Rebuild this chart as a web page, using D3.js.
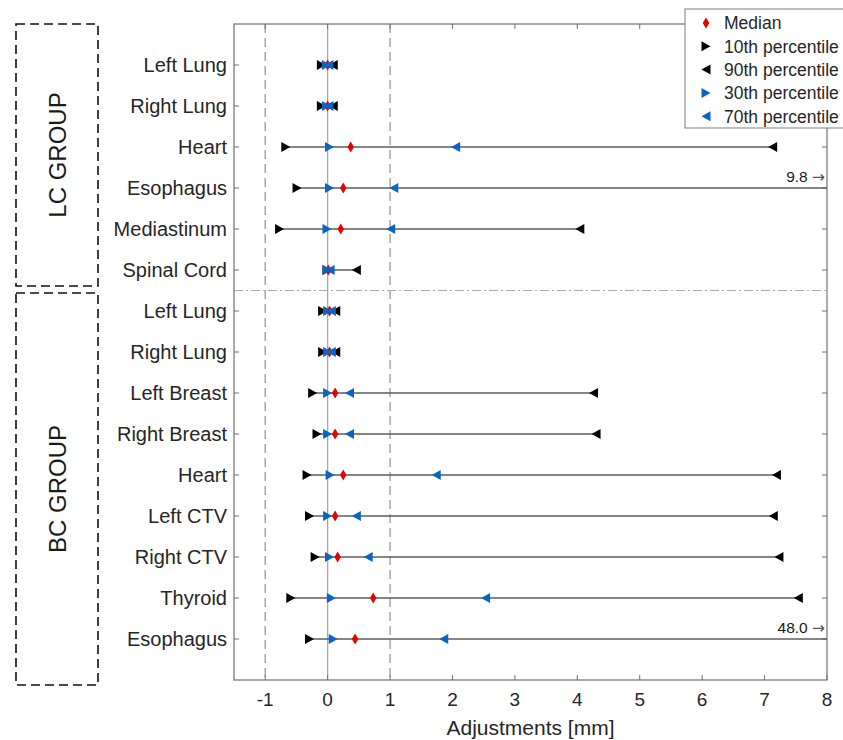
<!DOCTYPE html>
<html>
<head>
<meta charset="utf-8">
<script src="https://cdn.jsdelivr.net/npm/d3@7/dist/d3.min.js"></script>
<style>
  html, body { margin: 0; padding: 0; background: #fff; }
  svg { display: block; font-family: "Liberation Sans", Arial, Helvetica, sans-serif; }
</style>
</head>
<body>
<svg id="chart" width="843" height="740"></svg>
<script>
// ---------------- data ----------------
const categories = ["Left Lung","Right Lung","Heart","Esophagus","Mediastinum","Spinal Cord",
                    "Left Lung","Right Lung","Left Breast","Right Breast","Heart","Left CTV","Right CTV","Thyroid","Esophagus"];
const groupNames = ["LC GROUP","BC GROUP"];
const groupSizes = [6, 9];
const p10    = [-0.10,-0.10,-0.67,-0.49,-0.77,-0.01,-0.08,-0.08,-0.24,-0.17,-0.33,-0.29,-0.20,-0.59,-0.29];
const p30    = [-0.02,-0.02, 0.03, 0.03,-0.01,-0.01, 0.00, 0.00, 0.00, 0.00, 0.04, 0.00, 0.03, 0.06, 0.09];
const median = [ 0.00, 0.00, 0.37, 0.25, 0.21, 0.01, 0.03, 0.03, 0.12, 0.12, 0.25, 0.12, 0.16, 0.73, 0.44];
const p70    = [ 0.02, 0.02, 2.05, 1.06, 1.01, 0.04, 0.06, 0.06, 0.35, 0.35, 1.74, 0.46, 0.65, 2.53, 1.86];
const p90    = [ 0.09, 0.09, 7.13, 9.80, 4.04, 0.46, 0.13, 0.13, 4.26, 4.30, 7.19, 7.14, 7.23, 7.54, 48.0];
const xTicks = [-1,0,1,2,3,4,5,6,7,8];
const refLines = [-1, 1];
const legendLabels = ["Median","10th percentile","90th percentile","30th percentile","70th percentile"];

// ---------------- layout ----------------
const svg = d3.select("#chart");
const L = 234, R = 827, T = 24, B = 680;
const x = d3.scaleLinear().domain([-1.5, 8]).range([L, R]);
const y = d3.scaleLinear().domain([0, categories.length + 1]).range([T, B]);
const rowY = i => y(i + 1);

const frameColor = "#707070";
const textColor = "#262626";
const blue = "#0a64c4";
const red = "#e80000";
const lineColor = "#5c5c5c";

// reference lines
svg.append("line").attr("x1", x(0)).attr("x2", x(0)).attr("y1", T).attr("y2", B)
  .attr("stroke", "#a8a8a8").attr("stroke-width", 1.3);
svg.selectAll(".ref").data(refLines).join("line")
  .attr("x1", d => x(d)).attr("x2", d => x(d)).attr("y1", T).attr("y2", B)
  .attr("stroke", "#a0a0a0").attr("stroke-width", 1.4).attr("stroke-dasharray", "9,5");

// group separator
svg.append("line").attr("x1", L).attr("x2", R)
  .attr("y1", y(groupSizes[0] + 0.5)).attr("y2", y(groupSizes[0] + 0.5))
  .attr("stroke", "#ababab").attr("stroke-width", 1.2).attr("stroke-dasharray", "9,3,2,3");

// frame
svg.append("rect").attr("x", L).attr("y", T).attr("width", R - L).attr("height", B - T)
  .attr("fill", "none").attr("stroke", frameColor).attr("stroke-width", 1.2);

// x ticks (inward, bottom & top)
const tl = 5;
xTicks.forEach(t => {
  svg.append("line").attr("x1", x(t)).attr("x2", x(t)).attr("y1", B).attr("y2", B - tl).attr("stroke", frameColor);
  svg.append("line").attr("x1", x(t)).attr("x2", x(t)).attr("y1", T).attr("y2", T + tl).attr("stroke", frameColor);
});
svg.selectAll(".xt").data(xTicks).join("text")
  .attr("x", d => x(d)).attr("y", 706).attr("text-anchor", "middle")
  .attr("font-size", 19).attr("fill", textColor).text(d => d);
svg.append("text").attr("x", (L + R) / 2).attr("y", 735).attr("text-anchor", "middle")
  .attr("font-size", 21).attr("fill", textColor).text("Adjustments [mm]");

// y ticks (inward, left & right)
categories.forEach((c, i) => {
  svg.append("line").attr("x1", L).attr("x2", L + tl).attr("y1", rowY(i)).attr("y2", rowY(i)).attr("stroke", frameColor);
  svg.append("line").attr("x1", R).attr("x2", R - tl).attr("y1", rowY(i)).attr("y2", rowY(i)).attr("stroke", frameColor);
});
svg.selectAll(".cat").data(categories).join("text")
  .attr("x", 227).attr("y", (d, i) => rowY(i)).attr("dy", "0.36em").attr("text-anchor", "end")
  .attr("font-size", 20).attr("fill", textColor).text(d => d);

// marker shapes
const triRight = (w, h) => `M${-w/2},${-h/2}L${w/2},0L${-w/2},${h/2}Z`;
const triLeft  = (w, h) => `M${w/2},${-h/2}L${-w/2},0L${w/2},${h/2}Z`;
const diamond  = (w, h) => `M0,${-h/2}L${w/2},0L0,${h/2}L${-w/2},0Z`;
const TW = 9, TH = 10;

const xMax = x.domain()[1];
const rows = categories.map((c, i) => ({ i, p10: p10[i], p30: p30[i], med: median[i], p70: p70[i], p90: p90[i] }));

// range lines
svg.selectAll(".rng").data(rows).join("line")
  .attr("x1", d => x(d.p10)).attr("x2", d => x(Math.min(d.p90, xMax)))
  .attr("y1", d => rowY(d.i)).attr("y2", d => rowY(d.i))
  .attr("stroke", lineColor).attr("stroke-width", 1.5);

// off-chart annotations
const ann = svg.selectAll(".ann").data(rows.filter(d => d.p90 > xMax)).join("text")
  .attr("x", x(xMax) - 2).attr("y", d => rowY(d.i) - 6).attr("text-anchor", "end")
  .attr("font-size", 15.5).attr("fill", "#1a1a1a");
ann.append("tspan").text(d => d.p90.toFixed(1) + " ");
ann.append("tspan").attr("font-family", "DejaVu Sans").attr("font-size", 15.5).attr("fill", "#555").text("\u2192");

// black markers
svg.selectAll(".m10").data(rows).join("path")
  .attr("transform", d => `translate(${x(d.p10)},${rowY(d.i)})`).attr("d", triRight(TW, TH)).attr("fill", "#000");
svg.selectAll(".m90").data(rows.filter(d => d.p90 <= xMax)).join("path")
  .attr("transform", d => `translate(${x(d.p90)},${rowY(d.i)})`).attr("d", triLeft(TW, TH)).attr("fill", "#000");
// median
svg.selectAll(".mmed").data(rows).join("path")
  .attr("transform", d => `translate(${x(d.med)},${rowY(d.i)})`).attr("d", diamond(6.5, 11)).attr("fill", red);
// blue markers
svg.selectAll(".m30").data(rows).join("path")
  .attr("transform", d => `translate(${x(d.p30)},${rowY(d.i)})`).attr("d", triRight(TW, TH)).attr("fill", blue);
svg.selectAll(".m70").data(rows).join("path")
  .attr("transform", d => `translate(${x(d.p70)},${rowY(d.i)})`).attr("d", triLeft(TW, TH)).attr("fill", blue);

// group boxes
const boxes = [
  { name: groupNames[0], y0: 24, y1: 286 },
  { name: groupNames[1], y0: 293, y1: 685 }
];
boxes.forEach(b => {
  svg.append("rect").attr("x", 16).attr("y", b.y0).attr("width", 82).attr("height", b.y1 - b.y0)
    .attr("fill", "none").attr("stroke", "#111").attr("stroke-width", 1.6).attr("stroke-dasharray", "9,5");
  svg.append("text").attr("transform", `translate(57,${(b.y0 + b.y1) / 2}) rotate(-90)`)
    .attr("dy", "0.36em").attr("text-anchor", "middle").attr("font-size", 24).attr("fill", "#1a1a1a").text(b.name);
});

// legend
const lg = svg.append("g");
lg.append("rect").attr("x", 685).attr("y", 9).attr("width", 220).attr("height", 119)
  .attr("fill", "#fff").attr("stroke", "#8a8a8a").attr("stroke-width", 1.1);
const legShapes = [
  { d: diamond(6.5, 11), c: red },
  { d: triRight(TW, TH), c: "#000" },
  { d: triLeft(TW, TH), c: "#000" },
  { d: triRight(TW, TH), c: blue },
  { d: triLeft(TW, TH), c: blue }
];
legendLabels.forEach((lab, k) => {
  const yy = 23 + k * 23.3;
  lg.append("path").attr("transform", `translate(706,${yy})`).attr("d", legShapes[k].d).attr("fill", legShapes[k].c);
  lg.append("text").attr("x", 724).attr("y", yy).attr("dy", "0.36em").attr("font-size", 17.5)
    .attr("fill", textColor).text(lab);
});
</script>
</body>
</html>
